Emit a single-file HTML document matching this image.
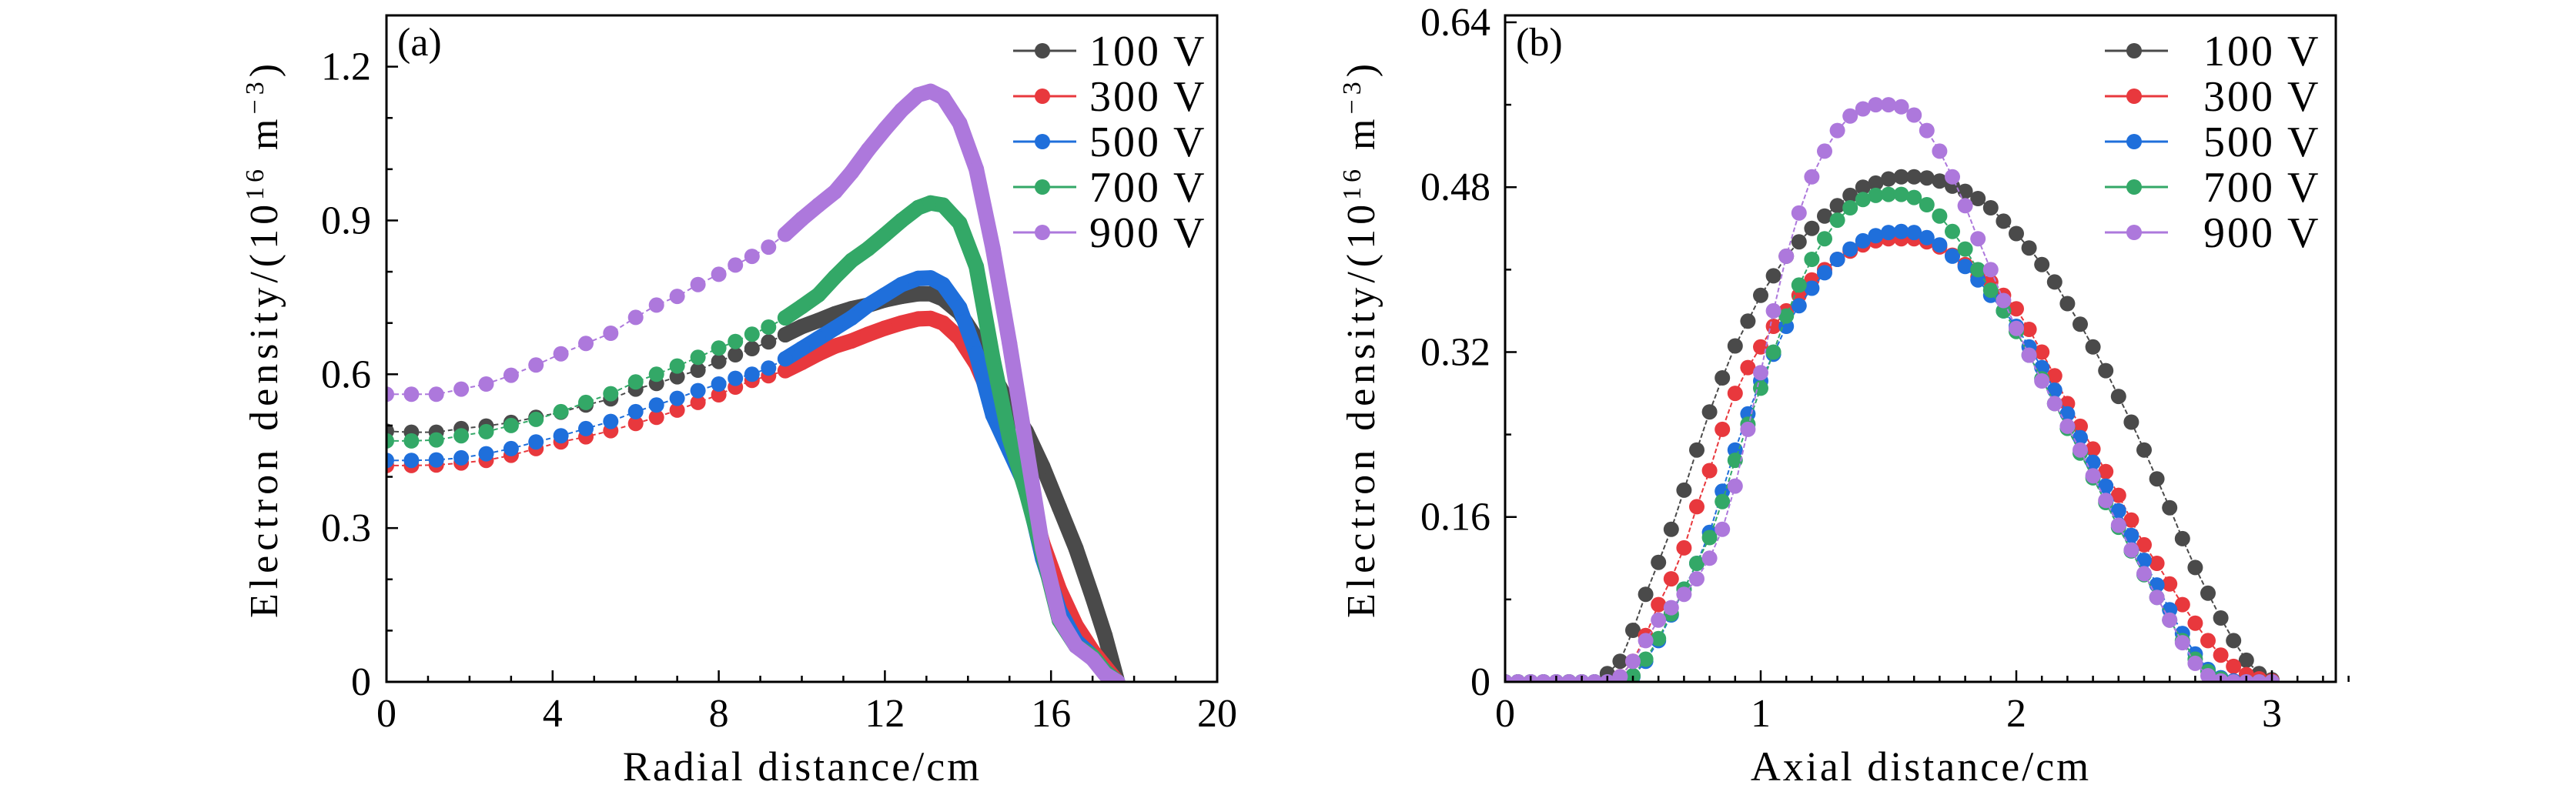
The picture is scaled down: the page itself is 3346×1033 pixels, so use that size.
<!DOCTYPE html>
<html><head><meta charset="utf-8"><style>
html,body{margin:0;padding:0;background:#fff;overflow:hidden;}
svg{display:block;font-family:"Liberation Serif",serif;}
</style></head><body>
<svg id="chart" width="3346" height="1033" viewBox="0 0 3346 1033" xmlns="http://www.w3.org/2000/svg">
<rect width="3346" height="1033" fill="#fff"/>
</svg>
<script>
const seriesNames=["100 V","300 V","500 V","700 V","900 V"];
const seriesColors=["#4a4a4a","#e8383d","#1f6fdb","#33a867","#ad78dc"];
// Panel (a)
const xA=[0,0.6,1.2,1.8,2.4,3.0,3.6,4.2,4.8,5.4,6.0,6.5,7.0,7.5,8.0,8.4,8.8,9.2,9.6,10.0,10.4,10.8,11.2,11.6,12.0,12.4,12.8,13.1,13.4,13.8,14.2,14.6,15.0,15.4,15.8,16.2,16.6,17.0,17.3,17.6];
const a100=[0.489,0.487,0.487,0.494,0.499,0.506,0.516,0.526,0.54,0.552,0.571,0.582,0.595,0.608,0.625,0.638,0.65,0.663,0.677,0.693,0.705,0.718,0.728,0.735,0.745,0.752,0.757,0.757,0.747,0.72,0.67,0.6,0.54,0.489,0.42,0.34,0.26,0.165,0.09,0];
const a300=[0.422,0.422,0.423,0.427,0.432,0.442,0.455,0.468,0.478,0.49,0.504,0.516,0.53,0.545,0.56,0.575,0.588,0.597,0.607,0.623,0.64,0.655,0.665,0.678,0.69,0.7,0.708,0.709,0.7,0.67,0.62,0.545,0.47,0.39,0.27,0.18,0.11,0.06,0.03,0];
const a500=[0.432,0.432,0.433,0.437,0.445,0.455,0.468,0.48,0.494,0.508,0.527,0.54,0.553,0.568,0.581,0.592,0.6,0.612,0.63,0.65,0.67,0.69,0.71,0.735,0.755,0.775,0.787,0.788,0.775,0.73,0.64,0.52,0.45,0.38,0.24,0.14,0.08,0.05,0.02,0];
const a700=[0.47,0.47,0.472,0.48,0.488,0.5,0.512,0.527,0.545,0.562,0.585,0.6,0.616,0.633,0.651,0.664,0.678,0.692,0.71,0.732,0.755,0.79,0.822,0.845,0.872,0.9,0.925,0.934,0.93,0.895,0.81,0.63,0.475,0.371,0.25,0.12,0.07,0.05,0.02,0];
const a900=[0.561,0.561,0.561,0.571,0.581,0.598,0.618,0.64,0.66,0.68,0.711,0.735,0.752,0.775,0.795,0.813,0.83,0.848,0.873,0.903,0.93,0.956,0.994,1.038,1.078,1.115,1.145,1.152,1.14,1.09,1.0,0.845,0.66,0.46,0.26,0.124,0.07,0.045,0.015,0];
const xTicksA=[0,4,8,12,16,20];
const yTicksA=[0,0.3,0.6,0.9,1.2];
const yTickLabelsA=["0","0.3","0.6","0.9","1.2"];
// Panel (b)
const xB=[0,0.05,0.1,0.15,0.2,0.25,0.3,0.35,0.4,0.45,0.5,0.55,0.6,0.65,0.7,0.75,0.8,0.85,0.9,0.95,1.0,1.05,1.1,1.15,1.2,1.25,1.3,1.35,1.4,1.45,1.5,1.55,1.6,1.65,1.7,1.75,1.8,1.85,1.9,1.95,2.0,2.05,2.1,2.15,2.2,2.25,2.3,2.35,2.4,2.45,2.5,2.55,2.6,2.65,2.7,2.75,2.8,2.85,2.9,2.95,3.0];
const b100=[0,0,0,0,0,0,0,0,0.008,0.02,0.05,0.085,0.116,0.148,0.186,0.225,0.262,0.295,0.326,0.35,0.375,0.394,0.413,0.427,0.44,0.452,0.462,0.472,0.48,0.484,0.488,0.49,0.49,0.489,0.486,0.481,0.476,0.469,0.46,0.447,0.435,0.421,0.405,0.388,0.367,0.347,0.325,0.302,0.277,0.252,0.225,0.197,0.169,0.139,0.111,0.086,0.062,0.04,0.021,0.008,0.002];
const b300=[0,0,0,0,0,0,0,0,0,0.005,0.02,0.045,0.075,0.1,0.13,0.17,0.205,0.245,0.28,0.305,0.325,0.345,0.36,0.375,0.39,0.4,0.41,0.418,0.424,0.428,0.43,0.43,0.43,0.427,0.422,0.414,0.405,0.393,0.388,0.375,0.362,0.342,0.32,0.297,0.27,0.248,0.226,0.204,0.181,0.157,0.133,0.115,0.095,0.075,0.057,0.04,0.026,0.015,0.007,0.003,0.001];
const b500=[0,0,0,0,0,0,0,0,0,0,0.005,0.02,0.04,0.065,0.09,0.115,0.145,0.185,0.225,0.26,0.292,0.318,0.345,0.365,0.382,0.397,0.41,0.42,0.428,0.433,0.436,0.437,0.436,0.431,0.424,0.413,0.403,0.39,0.375,0.36,0.345,0.325,0.305,0.283,0.26,0.237,0.213,0.19,0.166,0.142,0.118,0.094,0.07,0.047,0.027,0.012,0.004,0.001,0,0,0];
const b700=[0,0,0,0,0,0,0,0,0,0,0.006,0.022,0.042,0.066,0.09,0.115,0.14,0.175,0.215,0.25,0.285,0.32,0.355,0.385,0.41,0.43,0.448,0.46,0.468,0.472,0.473,0.473,0.47,0.463,0.452,0.437,0.42,0.4,0.38,0.36,0.34,0.317,0.294,0.27,0.246,0.222,0.198,0.174,0.15,0.127,0.104,0.082,0.06,0.04,0.022,0.01,0.003,0,0,0,0];
const b900=[0,0,0,0,0,0,0,0,0,0.005,0.02,0.04,0.06,0.072,0.085,0.1,0.12,0.148,0.19,0.245,0.3,0.36,0.413,0.455,0.49,0.515,0.535,0.549,0.556,0.56,0.56,0.558,0.55,0.535,0.515,0.49,0.462,0.43,0.4,0.37,0.343,0.317,0.292,0.27,0.248,0.225,0.2,0.176,0.152,0.128,0.105,0.082,0.06,0.038,0.018,0.006,0.001,0,0,0,0];
const xTicksB=[0,1,2,3];
const yTicksB=[0,0.16,0.32,0.48,0.64];
const yTickLabelsB=["0","0.16","0.32","0.48","0.64"];

const NS="http://www.w3.org/2000/svg";
const svg=document.getElementById("chart");
function mk(tag,attrs,parent){const e=document.createElementNS(NS,tag);for(const k in attrs)e.setAttribute(k,attrs[k]);(parent||svg).appendChild(e);return e;}

function panel(cfg){
  const g=mk("g",{});
  
  
  const L=cfg.L,R=cfg.R,T=cfg.T,B=cfg.B;
  const sx=v=>L+(v-cfg.x0)/(cfg.x1-cfg.x0)*(R-L);
  const sy=v=>B-(v-cfg.y0)/(cfg.y1-cfg.y0)*(B-T);
  const clip=mk("clipPath",{id:cfg.name+"-clip"},g);
  mk("rect",{x:L,y:T,width:R-L,height:B-T},clip);
  const plot=mk("g",{"clip-path":"url(#"+cfg.name+"-clip)"},g);
  cfg.series.forEach((ys,si)=>{
    const col=seriesColors[si];
    const sg=mk("g",{},plot);
    
    
    const n=Math.min(ys.length,cfg.xs.length);
    let d="";
    for(let i=0;i<n;i++)d+=(i?"L":"M")+sx(cfg.xs[i]).toFixed(1)+","+sy(ys[i]).toFixed(1);
    mk("path",{d:d,fill:"none",stroke:col,"stroke-width":2,"stroke-dasharray":cfg.dash},sg);
    if(cfg.bandFrom!==undefined){
      let bd="";let started=false;
      for(let i=0;i<n;i++){if(cfg.xs[i]>=cfg.bandFrom){bd+=(started?"L":"M")+sx(cfg.xs[i]).toFixed(1)+","+sy(ys[i]).toFixed(1);started=true;}}
      const band=mk("path",{d:bd,fill:"none",stroke:col,"stroke-width":cfg.r*2,"stroke-linejoin":"round","stroke-linecap":"round"},sg);
      
      
    }
    for(let i=0;i<n;i++){
      const c=mk("circle",{cx:sx(cfg.xs[i]).toFixed(1),cy:sy(ys[i]).toFixed(1),r:cfg.r,fill:col},sg);
      
      
    }
  });
  const fr=mk("rect",{x:L,y:T,width:R-L,height:B-T,fill:"none",stroke:"#000","stroke-width":3},g);
  
  
  const nx=Math.round((cfg.x1-cfg.x0)/cfg.xMinor);
  for(let k=0;k<=nx;k++){
    const v=cfg.x0+k*cfg.xMinor;
    const isMaj=cfg.xTicks.some(t=>Math.abs(t-v)<1e-6);
    const X=sx(v);
    mk("line",{x1:X,x2:X,y1:B,y2:B-(isMaj?15:8),stroke:"#000","stroke-width":2.5},g);
  }
  cfg.xTicks.forEach(t=>{
    const tx=mk("text",{x:sx(t),y:944,"font-size":52,"text-anchor":"middle",fill:"#000"},g);
    tx.textContent=String(t);
    
    
  });
  const ny=Math.round((cfg.y1-cfg.y0)/cfg.yMinor);
  for(let k=0;k<=ny;k++){
    const v=cfg.y0+k*cfg.yMinor;
    const isMaj=cfg.yTicks.some(t=>Math.abs(t-v)<1e-6);
    const Y=sy(v);
    mk("line",{x1:L,x2:L+(isMaj?15:8),y1:Y,y2:Y,stroke:"#000","stroke-width":2.5},g);
  }
  cfg.yTicks.forEach((t,i)=>{
    const tx=mk("text",{x:cfg.yLabelX,y:sy(t)+17,"font-size":52,"text-anchor":"end",fill:"#000"},g);
    tx.textContent=cfg.yLabels[i];
    
    
  });
  const xt=mk("text",{x:cfg.xTitleX,y:1014,"font-size":54,"text-anchor":"middle",fill:"#000","letter-spacing":"3"},g);
  xt.textContent=cfg.xTitle;
  
  
  const yt=mk("text",{x:0,y:0,"font-size":52,"text-anchor":"middle",fill:"#000","letter-spacing":"6",transform:"translate("+cfg.yTitleX+",440) rotate(-90)"},g);
  yt.innerHTML='Electron density/(10<tspan dy="-18" font-size="34">16</tspan><tspan dy="18"> m</tspan><tspan dy="-18" font-size="34">−3</tspan><tspan dy="18">)</tspan>';
  
  
  const pl=mk("text",{x:L+14,y:72,"font-size":52,fill:"#000"},g);
  pl.textContent=cfg.label;
  
  
  const lg=mk("g",{},g);
  
  
  seriesNames.forEach((nm,i)=>{
    const y=66+i*59;
    const e=mk("g",{},lg);
    
    
    mk("line",{x1:cfg.legX,x2:cfg.legX+82,y1:y,y2:y,stroke:seriesColors[i],"stroke-width":3},e);
    mk("circle",{cx:cfg.legX+38,cy:y,r:10,fill:seriesColors[i]},e);
    const t=mk("text",{x:cfg.legTextX,y:y+19,"font-size":56,fill:"#000","letter-spacing":"3"},e);
    t.textContent=nm;
  });
}
panel({name:"panel-a",L:502,R:1581,T:20,B:886,x0:0,x1:20,y0:0,y1:1.3,xs:xA,series:[a100,a300,a500,a700,a900],
  xTicks:xTicksA,xMinor:1,yTicks:yTicksA,yLabels:yTickLabelsA,yMinor:0.1,r:10,bandFrom:9.6,dash:"6,4",
  xTitle:"Radial distance/cm",xTitleX:1042,yTitleX:360,yLabelX:482,label:"(a)",legX:1316,legTextX:1415});
panel({name:"panel-b",L:1955,R:3034,T:20,B:886,x0:0,x1:3.25,y0:0,y1:0.6467,xs:xB,series:[b100,b300,b500,b700,b900],
  xTicks:xTicksB,xMinor:0.1,yTicks:yTicksB,yLabels:yTickLabelsB,yMinor:0.08,r:10,dash:"6,3",
  xTitle:"Axial distance/cm",xTitleX:2495,yTitleX:1785,yLabelX:1936,label:"(b)",legX:2734,legTextX:2862});
</script>
</body></html>
